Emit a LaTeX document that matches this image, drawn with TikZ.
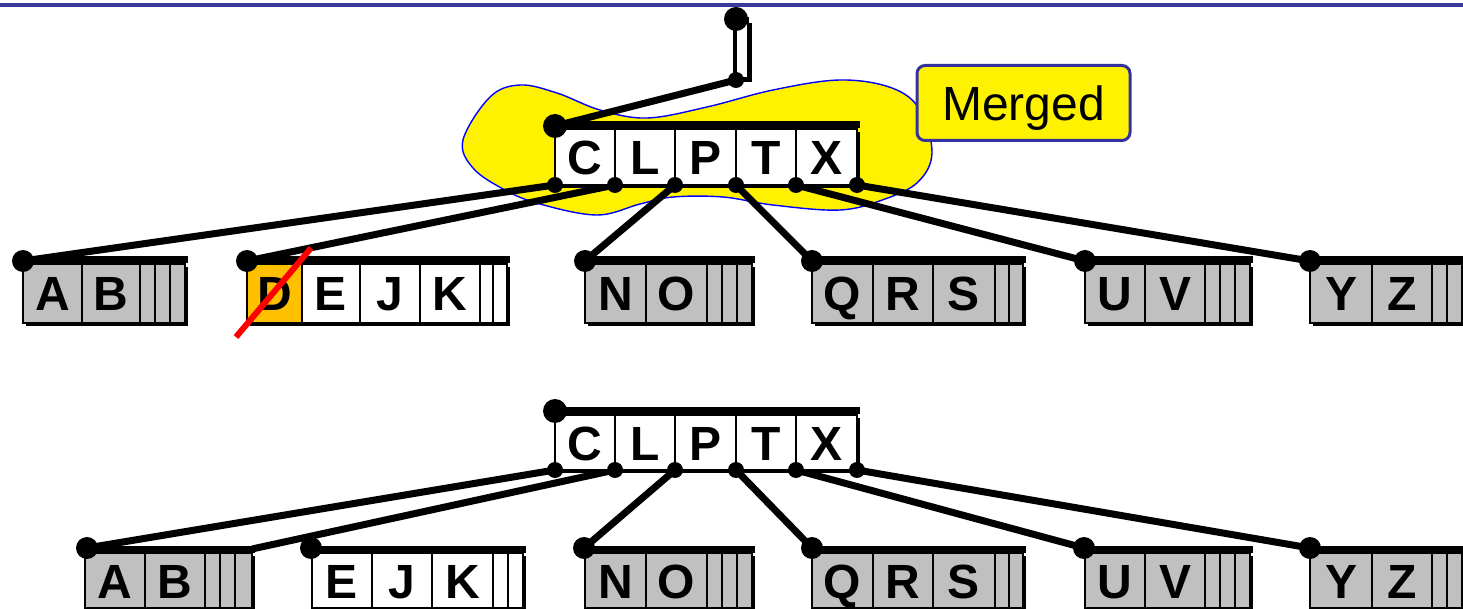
\documentclass[tikz,border=0pt]{standalone}
\usepackage{fontspec}
\setmainfont{Liberation Sans}
\usetikzlibrary{backgrounds}
\definecolor{hdrblue}{RGB}{58,58,154}
\definecolor{cellgray}{RGB}{192,192,192}
\definecolor{dorange}{RGB}{255,192,0}
\definecolor{lblue}{RGB}{51,51,160}
\definecolor{blobblue}{RGB}{0,0,255}
\tikzset{
  conn/.style={line width=3.5pt},
  bigdot/.style={circle, fill=black, inner sep=0pt, minimum size=11pt},
  smalldot/.style={circle, fill=black, inner sep=0pt, minimum size=8pt},
  key/.style={font=\bfseries\fontsize{24}{24}\selectfont, text height=17.5pt, text depth=0pt, inner sep=0pt},
  cellbox/.style={draw=black, line width=1.4pt},
  topbar/.style={line width=3.5pt},
  mergedbox/.style={draw=lblue, line width=1.5pt, fill=yellow, rounded corners=4pt},
}
% #1 name, #2 cell top, #3 cell bottom, #4 x start, #5 x end, #6 list x1/x2/fill/label
\newcommand\treenode[6]{%
  \fill[black] ({#4+3},{#2+3}) rectangle ({#5+3},{#3+3});
  \foreach \xa/\xb/\cf/\lab in {#6}{%
    \draw[cellbox, fill=\cf] (\xa,#2) rectangle (\xb,#3);
    \node[key] (#1-\lab) at ({(\xa+\xb)/2},{(#2+#3)/2}) {\lab};
  }
  \draw[topbar] (#4,{#2-4}) -- ({#5+3},{#2-4});
}
\begin{document}
\begin{tikzpicture}[x=0.5pt,y=-0.5pt]
\clip (0,0) rectangle (1463,609);

% blob
\begin{scope}[on background layer]
\fill[white] (0,0) rectangle (1463,609);
\draw[blobblue, line width=0.7pt, fill=yellow] plot[smooth cycle, tension=0.6] coordinates {
 (463,140) (490,97) (520,85) (557,93) (600,110) (647,118) (707,107) (773,90)
 (840,80) (892,88) (920,110) (932,153) (918,182) (885,199) (840,210) (773,205)
 (723,197) (673,197) (640,204) (597,215) (540,204) (505,190) (473,168)};
\end{scope}

% header line
\fill[hdrblue] (0,3) rectangle (1463,7);

% root pointer
\fill[black] (740,23) rectangle (752,82);
\draw[cellbox, fill=white] (736,18) rectangle (748,78);
\node[bigdot, minimum size=12pt] (rp-top) at (736,19) {};
\node[smalldot] (rp-bot) at (736,80) {};

% ===== top: internal node
\treenode{tn}{129}{185}{555}{857}{555/615/white/C,615/675/white/L,675/736/white/P,736/796/white/T,796/857/white/X}
\node[bigdot, minimum size=12pt] (tn-root) at (555,126) {};
\foreach \i/\x in {0/555,1/615,2/675,3/736,4/796,5/857}{\node[smalldot] (tc\i) at (\x,185) {};}

% top leaves
\treenode{tab}{264}{323}{23}{185}{23/82/cellgray/A,82/140/cellgray/B,140/155/cellgray/,155/170/cellgray/,170/185/cellgray/}
\node[bigdot] (t-ab) at (23,261) {};
\treenode{tdejk}{264}{323}{247}{507}{247/302/dorange/D,302/360/white/E,360/420/white/J,420/480/white/K,480/493/white/,493/507/white/}
\node[bigdot] (t-dejk) at (247,261) {};
\treenode{tno}{264}{323}{585}{752}{585/646/cellgray/N,646/707/cellgray/O,707/722/cellgray/,722/737/cellgray/,737/752/cellgray/}
\node[bigdot] (t-no) at (585,261) {};
\treenode{tqrs}{264}{323}{812}{1023}{812/873/cellgray/Q,873/933/cellgray/R,933/995/cellgray/S,995/1009/cellgray/,1009/1023/cellgray/}
\node[bigdot] (t-qrs) at (812,261) {};
\treenode{tuv}{264}{323}{1085}{1250}{1085/1145/cellgray/U,1145/1205/cellgray/V,1205/1220/cellgray/,1220/1235/cellgray/,1235/1250/cellgray/}
\node[bigdot] (t-uv) at (1085,261) {};
\treenode{tyz}{264}{323}{1310}{1477}{1310/1372/cellgray/Y,1372/1432/cellgray/Z,1432/1447/cellgray/,1447/1462/cellgray/,1462/1477/cellgray/}
\node[bigdot] (t-yz) at (1310,261) {};

% red strike
\draw[red, line width=3pt] (236,337) -- (311,248);

% merged label
\node[mergedbox, minimum width=106.5pt, minimum height=37.5pt, inner sep=0pt,
      text height=17.5pt, text depth=0pt,
      font=\fontsize{24}{24}\selectfont] (merged) at (1023.5,103) {Merged};

% ===== bottom: internal node
\treenode{bn}{415}{470}{555}{857}{555/615/white/C,615/675/white/L,675/736/white/P,736/796/white/T,796/857/white/X}
\node[bigdot, minimum size=12pt] (bn-root) at (555,411) {};
\foreach \i/\x in {0/555,1/615,2/675,3/736,4/796,5/857}{\node[smalldot] (bc\i) at (\x,470) {};}

% bottom leaves
\treenode{bab}{553}{608}{85}{252}{85/145/cellgray/A,145/205/cellgray/B,205/220/cellgray/,220/235/cellgray/,235/252/cellgray/}
\node[bigdot] (b-ab) at (87,548) {};
\treenode{bejk}{553}{608}{312}{523}{312/372/white/E,372/432/white/J,432/493/white/K,493/508/white/,508/523/white/}
\node[bigdot] (b-ejk) at (311,548) {};
\treenode{bno}{553}{608}{585}{752}{585/646/cellgray/N,646/707/cellgray/O,707/722/cellgray/,722/737/cellgray/,737/752/cellgray/}
\node[bigdot] (b-no) at (584,548) {};
\treenode{bqrs}{553}{608}{812}{1023}{812/873/cellgray/Q,873/933/cellgray/R,933/995/cellgray/S,995/1009/cellgray/,1009/1023/cellgray/}
\node[bigdot] (b-qrs) at (812,548) {};
\treenode{buv}{553}{608}{1085}{1250}{1085/1145/cellgray/U,1145/1205/cellgray/V,1205/1220/cellgray/,1220/1235/cellgray/,1235/1250/cellgray/}
\node[bigdot] (b-uv) at (1084,548) {};
\treenode{byz}{553}{608}{1310}{1477}{1310/1372/cellgray/Y,1372/1432/cellgray/Z,1432/1447/cellgray/,1447/1462/cellgray/,1462/1477/cellgray/}
\node[bigdot] (b-yz) at (1310,548) {};
\coordinate (b-stale) at (252,549);

% connectors
\begin{scope}[on background layer]
\draw[line width=3pt] (rp-top.center) -- (rp-bot.center);
\draw[conn] (rp-bot.center) -- (tn-root.center);
\draw[conn] (tc0.center) -- (t-ab.center);
\draw[conn] (tc1.center) -- (t-dejk.center);
\draw[conn] (tc2.center) -- (t-no.center);
\draw[conn] (tc3.center) -- (t-qrs.center);
\draw[conn] (tc4.center) -- (t-uv.center);
\draw[conn] (tc5.center) -- (t-yz.center);
\draw[conn] (bc0.center) -- (b-ab.center);
\draw[conn] (bc1.center) -- (b-stale);
\draw[conn] (bc2.center) -- (b-no.center);
\draw[conn] (bc3.center) -- (b-qrs.center);
\draw[conn] (bc4.center) -- (b-uv.center);
\draw[conn] (bc5.center) -- (b-yz.center);
\end{scope}
\end{tikzpicture}
\end{document}
